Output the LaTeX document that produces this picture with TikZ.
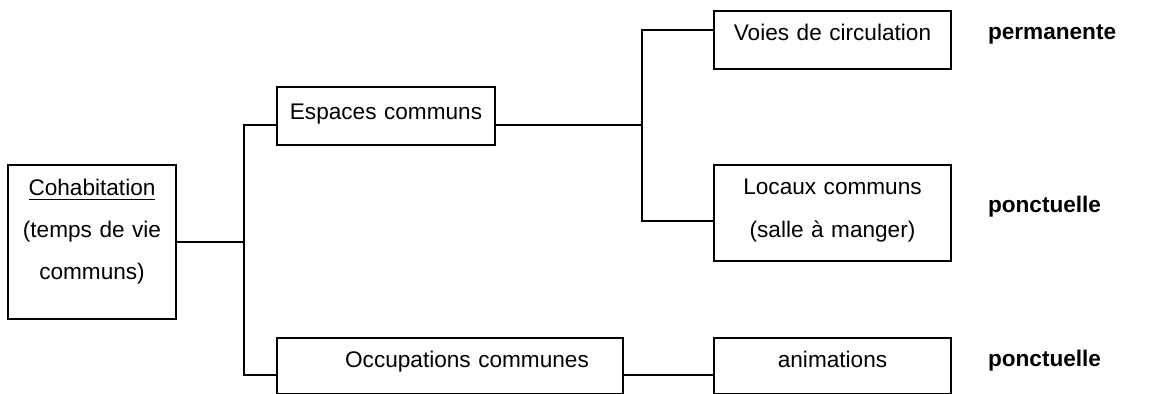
\documentclass[tikz,border=0pt]{standalone}
\usepackage{fontspec}
\setmainfont{Liberation Sans}

\begin{document}
\begin{tikzpicture}[x=0.5pt, y=-0.5pt, line width=1pt,
    box/.style={draw, anchor=north west, inner sep=0pt, align=center,
      font=\fontsize{11.3pt}{21pt}\selectfont},
    tag/.style={anchor=base west, inner sep=0pt, font=\fontsize{11.3pt}{13pt}\selectfont\bfseries}]
                \useasboundingbox (0,0) rectangle (1152,394);
                \node[box, text width=84pt, text height=15.5pt, text depth=61.5pt] (C) at (7,164) {\underline{Cohabitation}\\(temps de vie\\communs)};
                \node[box, text width=109pt, text height=16.5pt, text depth=12.5pt] (E) at (276,86) {Espaces communs};
                \node[box, text width=173pt, text height=15pt, text depth=13pt] (O) at (276,337) {\hspace*{17pt}Occupations communes};
                \node[box, text width=118.5pt, text height=15pt, text depth=14pt] (V) at (713,10) {Voies de circulation};
                \node[box, text width=118.5pt, text height=15pt, text depth=33pt] (L) at (713,164) {Locaux communs\\[0.5pt](salle à manger)};
                \node[box, text width=118.5pt, text height=15pt, text depth=13pt] (A) at (713,337) {animations};
                \node[tag] (P1) at (987,40) {permanente};
                \node[tag] (P2) at (987,213) {ponctuelle};
                \node[tag] (P3) at (987,367) {ponctuelle};
                \draw (C.east) -- ++(67,0) coordinate (J1);
                \draw ([yshift=-4.5pt]E.west) -| (J1) |- ([yshift=-4.5pt]O.west);
                \draw ([yshift=-4.5pt]E.east) -- ++(146,0) coordinate (J2);
                \draw ([yshift=5pt]V.west) -| (J2) |- ([yshift=-4pt]L.west);
                \draw ([yshift=-4.5pt]O.east) -- ([yshift=-4.5pt]A.west);
            \end{tikzpicture}
\end{document}
